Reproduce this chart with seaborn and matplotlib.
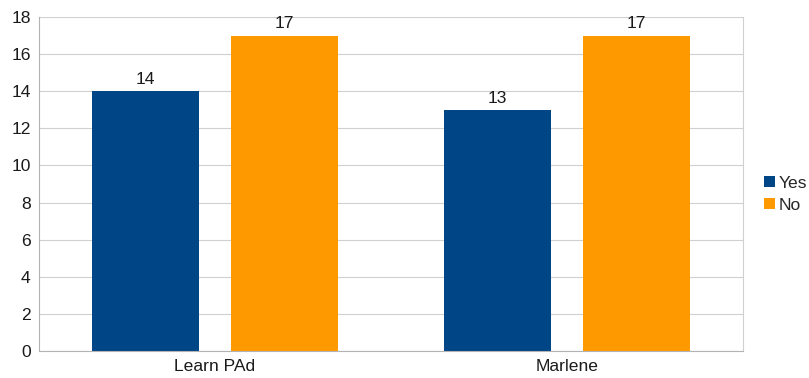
import matplotlib
matplotlib.use("Agg")
import matplotlib.pyplot as plt
import pandas as pd
import seaborn as sns

categories = ["Learn PAd", "Marlene"]
yes_values = [14, 13]
no_values = [17, 17]
series = ["Yes", "No"]
colors = ["#004586", "#ff9900"]

df = pd.DataFrame({
    "category": categories * 2,
    "answer": ["Yes"] * len(categories) + ["No"] * len(categories),
    "count": yes_values + no_values,
})

sns.set_style("white")
plt.rcParams["font.family"] = ["Liberation Sans", "DejaVu Sans"]
fs = 12.6

fig = plt.figure(figsize=(8.09, 3.78), dpi=100)
ax = fig.add_axes([39 / 809, 27 / 378, (743 - 39) / 809, (351 - 17) / 378])

sns.barplot(data=df, x="category", y="count", hue="answer", hue_order=series,
            palette=colors, width=0.79, gap=0.23, saturation=1, ax=ax,
            legend=True, edgecolor="none", linewidth=0)

for c in ax.containers:
    ax.bar_label(c, fontsize=fs, padding=3, color="#1a1a1a")

ax.set_ylim(0, 18)
ax.set_xlim(-0.5, 1.5)
ax.set_yticks(range(0, 19, 2))
ax.set_xlabel("")
ax.set_ylabel("")
ax.yaxis.grid(True, color="#d0d0d0", linewidth=0.8)
ax.set_axisbelow(True)
ax.set_xticks([-0.5, 0.5, 1.5], minor=True)
ax.tick_params(axis="x", which="major", length=0, labelsize=fs, pad=6, colors="#1a1a1a")
ax.tick_params(axis="x", which="minor", length=4, color="#b3b3b3", width=0.8)
ax.tick_params(axis="y", length=4, width=0.8, labelsize=fs, colors="#1a1a1a", pad=2)
ax.tick_params(axis="y", color="#b3b3b3")
for side in ["left", "bottom", "right", "top"]:
    ax.spines[side].set_color("#d0d0d0")
    ax.spines[side].set_linewidth(0.8)
ax.spines["top"].set_visible(False)
ax.spines["bottom"].set_color("#b3b3b3")
ax.spines["left"].set_color("#b3b3b3")

handles, labels = ax.get_legend_handles_labels()
ax.legend(handles, labels, loc="center left", bbox_to_anchor=(1.03, 0.47),
          frameon=False, fontsize=fs, handlelength=0.6, handleheight=0.6,
          handletextpad=0.25, labelspacing=0.4, borderaxespad=0, borderpad=0)

fig.savefig("out.png", dpi=100)
